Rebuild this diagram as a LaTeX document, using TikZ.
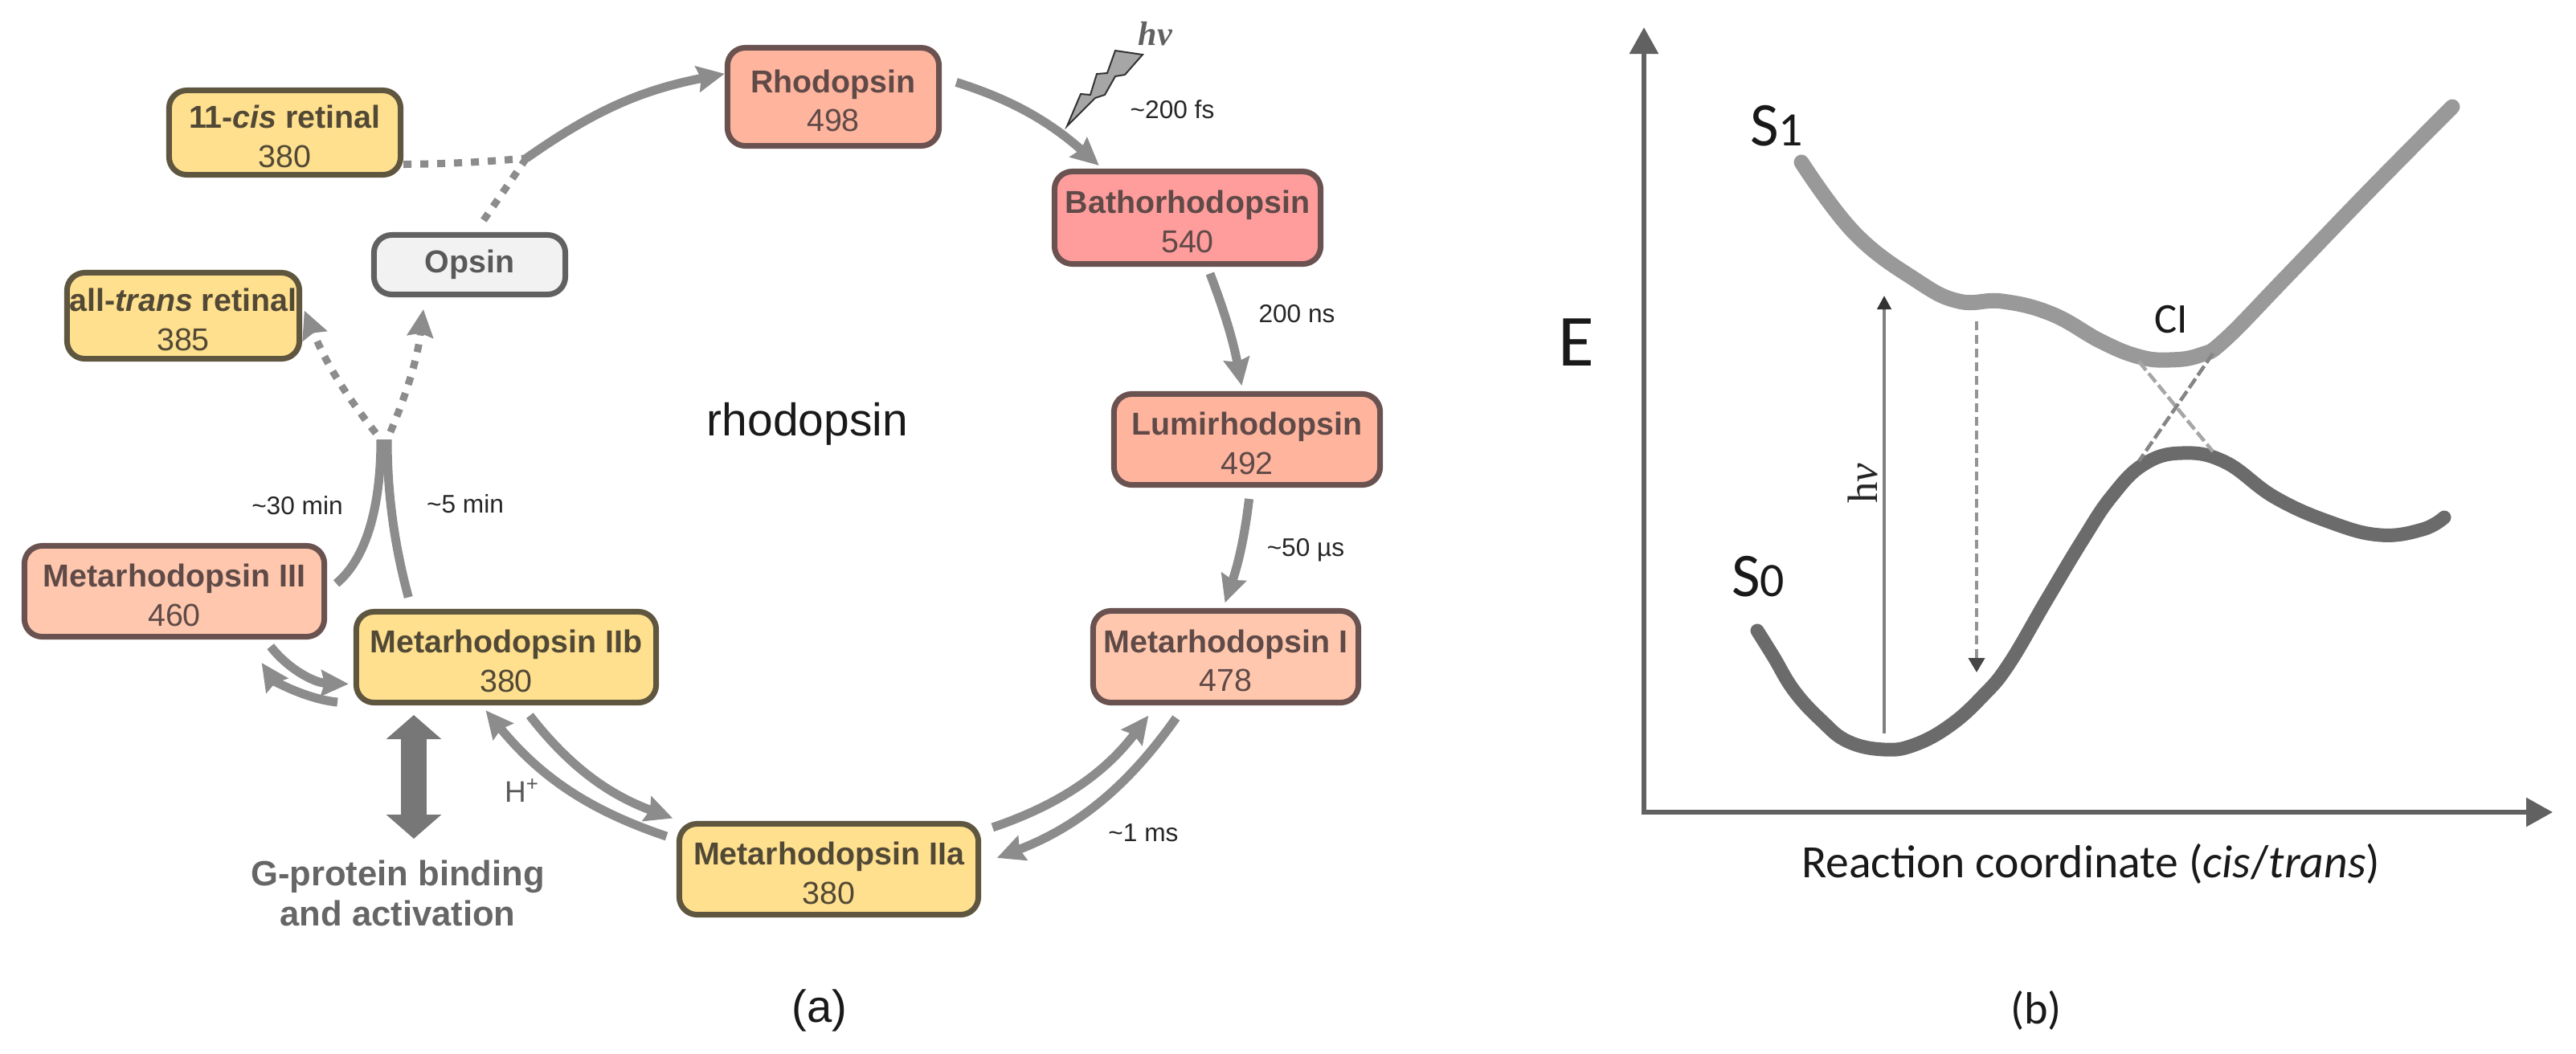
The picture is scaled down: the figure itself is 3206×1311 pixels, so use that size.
\documentclass[tikz,border=0pt]{standalone}
\usepackage{fontspec}
\setmainfont{Liberation Sans}
\newfontfamily\carlito{Carlito}
\newfontfamily\libserif{Liberation Serif}
\usetikzlibrary{arrows.meta}

\definecolor{flowgray}{HTML}{8C8C8C}
\definecolor{rimyellow}{HTML}{5F5640}
\definecolor{rimred}{HTML}{6A5250}
\definecolor{fillyellow}{HTML}{FFE08E}
\definecolor{fillrho}{HTML}{FFB49E}
\definecolor{fillbatho}{HTML}{FF9C9C}
\definecolor{fillmeta}{HTML}{FFC8AE}

\newcommand{\statetxt}[2]{\rule{0pt}{10.8pt}{\bfseries #1}\\#2}

\tikzset{
  statebox/.style={draw, line width=.07cm, rounded corners=.22cm, inner sep=0pt,
    align=center, font=\fontsize{11.2}{13.8}\selectfont},
  yellowbox/.style={statebox, draw=rimyellow, fill=fillyellow, text=rimyellow!85!black},
  redbox/.style={statebox, draw=rimred, fill=#1, text=rimred!90!black},
  timelabel/.style={font=\fontsize{9}{11}\selectfont, text=black!85},
  flowline/.style={draw=flowgray, line width=.11cm},
  flowarrow/.style={flowline, -{Stealth[length=.34cm,width=.32cm,inset=.04cm]}},
  dotline/.style={flowline, line width=.09cm, dash pattern=on .1cm off .11cm},
  plotlabel/.style={font=\carlito, text=black!90}
}

\begin{document}
\begin{tikzpicture}[x=.01cm, y=-.01cm]

  \useasboundingbox (0,0) rectangle (3206,1311);

  \begin{scope}[every node/.style={yellowbox}]
    \node[minimum width=2.88cm, minimum height=1.05cm] (cis) at (354.5,165) {\statetxt{11-\textit{cis} retinal}{380}};
    \node[minimum width=2.89cm, minimum height=1.07cm] (alltrans) at (228,393) {\statetxt{all-\textit{trans} retinal}{385}};
    \node[minimum width=3.72cm, minimum height=1.13cm] (metaIIa) at (1031.5,1082) {\statetxt{Metarhodopsin IIa}{380}};
    \node[minimum width=3.73cm, minimum height=1.13cm] (metaIIb) at (630,818) {\statetxt{Metarhodopsin IIb}{380}};
  \end{scope}

  \begin{scope}
    \node[statebox, draw=black!62, fill=black!5, text=black!65, minimum width=2.38cm, minimum height=.74cm] (opsin) at (584.5,329.5) {\bfseries Opsin};
    \node[redbox=fillrho, minimum width=2.63cm, minimum height=1.22cm] (rho) at (1037,120.5) {\statetxt{Rhodopsin}{498}};
    \node[redbox=fillbatho, minimum width=3.31cm, minimum height=1.15cm] (batho) at (1478,271) {\statetxt{Bathorhodopsin}{540}};
    \node[redbox=fillrho, minimum width=3.31cm, minimum height=1.13cm] (lumi) at (1552,547) {\statetxt{Lumirhodopsin}{492}};
    \node[redbox=fillmeta, minimum width=3.30cm, minimum height=1.14cm] (metaI) at (1525.5,817.5) {\statetxt{Metarhodopsin I}{478}};
    \node[redbox=fillmeta, minimum width=3.73cm, minimum height=1.13cm] (metaIII) at (217,736) {\statetxt{Metarhodopsin III}{460}};
  \end{scope}

  \coordinate (join) at (655,197);
  \coordinate (forkL) at (474,547);
  \coordinate (forkR) at (482,547);
  \coordinate (gtop) at (515,890);
  \coordinate (gbot) at (515,1044);

  \begin{scope}[every node/.style={timelabel}]
    \node (t200fs) at (1459,136) {\textasciitilde 200 fs};
    \node (t200ns) at (1614,391) {200 ns};
    \node (t50us) at (1625,685) {\textasciitilde 50 µs};
    \node (t1ms) at (1423,1037) {\textasciitilde 1 ms};
    \node (t30min) at (370,629) {\textasciitilde 30 min};
    \node (t5min) at (579,627) {\textasciitilde 5 min};
  \end{scope}

  \node[font=\fontsize{10.5}{12}\selectfont, text=black!65] (hplus) at (650,984) {H\textsuperscript{+}};
  \node[font=\fontsize{16.2}{18}\selectfont, text=black!90] (rhotitle) at (1005,528) {rhodopsin};
  \node[font=\bfseries\fontsize{12.4}{14.4}\selectfont, text=black!60, align=center] (gprotein) at (495,1112) {G-protein binding\\and activation};
  \node[font=\fontsize{16}{18}\selectfont, text=black!90] (panela) at (1020,1258) {(a)};
  \node[font=\libserif\bfseries\itshape\fontsize{12}{14}\selectfont, text=black!62] (hvbolt) at (1438,42) {hv};

  \begin{scope}[every edge/.style={flowarrow}]
    \path (join) edge[bend left=12] (rho.168);
    \path (rho.10) edge[bend left=12, shorten <=.19cm, shorten >=.06cm] (batho.150);
    \path (batho.292) edge[bend left=5, shorten <=.09cm, shorten >=.07cm] (lumi.95);
    \path (lumi.274) edge[bend left=6, shorten <=.14cm, shorten >=.07cm] (metaI.93);
    \path (metaI.230) edge[bend left=17, shorten <=.19cm, shorten >=.21cm] (metaIIa.2);
    \path (metaIIa.14) edge[bend right=17, shorten <=.15cm, shorten >=.16cm] (metaI.215);
    \path (metaIIb.288) edge[bend right=16, shorten <=.16cm, shorten >=.1cm] (metaIIa.162);
    \path (metaIIa.169) edge[bend left=16, shorten <=.13cm, shorten >=.08cm] (metaIIb.243);
    \path (metaIII.332) edge[bend right=25, shorten <=.11cm, shorten >=.06cm] (metaIIb.190);
    \path (metaIIb.197) edge[bend left=25, shorten <=.2cm, shorten >=.35cm] (metaIII.326);
  \end{scope}

  \begin{scope}[every edge/.style={flowline}]
    \path (metaIII.0) edge[out=40, in=270, looseness=.9, shorten <=.15cm] (forkL);
    \path (metaIIb.153) edge[out=105, in=270, looseness=.9, shorten <=.15cm] (forkR);
  \end{scope}

  \begin{scope}[every edge/.style={dotline}]
    \path (cis.345) edge[bend right=2] (join);
    \path (opsin.80) edge[shorten <=.18cm] (join);
    \path (forkL) edge[bend left=8, shorten <=.1cm, -{Stealth[length=.34cm,width=.32cm,inset=.04cm]}, shorten >=.07cm] (alltrans.5);
    \path (forkR) edge[bend right=8, shorten <=.1cm, -{Stealth[length=.34cm,width=.32cm,inset=.04cm]}, shorten >=.15cm] (opsin.216);
  \end{scope}

  \draw[draw=flowgray!85!black, line width=.32cm, {Triangle[length=.3cm,width=.67cm]}-{Triangle[length=.3cm,width=.67cm]}] (gtop) -- (gbot);

  \draw[draw=black!80, fill=black!35, line width=.02cm] (1388,63) -- (1422,68) -- (1400,93) -- (1388,95) -- (1375,118) -- (1363,122) -- (1328,157) -- (1345,117) -- (1357,118) -- (1365,92) -- (1378,91) -- cycle;

  \coordinate (orig) at (2046,1011);
  \coordinate (ytip) at (2046,34);
  \coordinate (xtip) at (3177,1011);
  \draw[draw=black!62, line width=.06cm, {Triangle[length=.33cm,width=.35cm]}-{Triangle[length=.33cm,width=.35cm]}] (ytip) -- (orig) -- (xtip);

  \draw[draw=black!40, line width=.19cm, line cap=round] plot[smooth, tension=.7] coordinates {
    (2242,202) (2308,290) (2385,349) (2438,375) (2492,375) (2554,391) (2615,425) (2662,444)
    (2700,448) (2738,442) (2769,423) (2846,344) (2950,236) (3052,133)};
  \draw[draw=black!58, line width=.17cm, line cap=round] plot[smooth, tension=.7] coordinates {
    (2187,785) (2207,817) (2233,860) (2267,897) (2300,923) (2345,933) (2383,927) (2427,903)
    (2467,867) (2500,827) (2547,747) (2592,672) (2628,618) (2668,578) (2715,564) (2769,575) (2831,619) (2900,650)
    (2962,666) (3015,659) (3042,644)};

  \coordinate (ciA) at (2662,450);
  \coordinate (ciB) at (2754,562);
  \coordinate (ciC) at (2754,440);
  \coordinate (ciD) at (2662,574);
  \draw[draw=black!35, line width=.045cm, dash pattern=on .14cm off .05cm] (ciA) -- (ciB);
  \draw[draw=black!48, line width=.045cm, dash pattern=on .14cm off .05cm] (ciC) -- (ciD);

  \coordinate (pumpA) at (2345,913);
  \coordinate (pumpB) at (2345,368);
  \coordinate (relaxA) at (2460,400);
  \coordinate (relaxB) at (2460,837);
  \draw[draw=black!50, line width=.04cm, -{Triangle[length=.17cm,width=.17cm,color=black!80]}] (pumpA) -- (pumpB);
  \draw[draw=black!42, line width=.04cm, dash pattern=on .11cm off .06cm, -{Triangle[length=.18cm,width=.2cm,color=black!72]}] (relaxA) -- (relaxB);

  \begin{scope}[every node/.style={plotlabel}]
    \node[font=\carlito\fontsize{26}{30}\selectfont] (elabel) at (1962,426) {E};
    \node[font=\carlito\fontsize{22}{24}\selectfont] (sone) at (2211,157) {S{\fontsize{17}{20}\selectfont 1}};
    \node[font=\carlito\fontsize{22}{24}\selectfont] (szero) at (2188,718) {S{\fontsize{17}{20}\selectfont 0}};
    \node[font=\carlito\fontsize{15}{18}\selectfont] (cilabel) at (2702,398) {CI};
    \node[font=\carlito\fontsize{16.4}{18}\selectfont] (xlabel) at (2602,1075) {Reaction coordinate (\textit{cis}/\textit{trans})};
    \node[font=\carlito\fontsize{16}{18}\selectfont] (panelb) at (2534,1258) {(b)};
  \end{scope}
  \node[rotate=90, font=\libserif\fontsize{15}{17}\selectfont, text=black!85] (hvpump) at (2318,602) {h\textit{v}};

\end{tikzpicture}
\end{document}
